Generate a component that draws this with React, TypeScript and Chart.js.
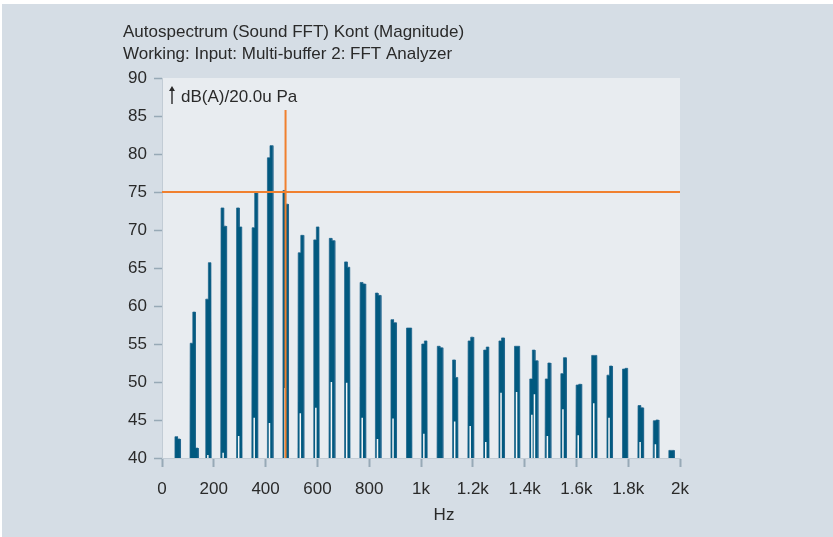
import { useEffect, useRef } from 'react';
import { Chart, registerables } from 'chart.js';

Chart.register(...registerables);

// Harmonic centre frequencies (Hz)
const harmonicHz = [
  60, 119, 179, 238, 298, 358, 417, 477, 536, 596, 656, 715, 775, 834, 894, 954, 1013,
  1073, 1132, 1192, 1252, 1311, 1371, 1430, 1490, 1550, 1609, 1669, 1728, 1788, 1848, 1907, 1967,
];

// Level of each FFT bin around every harmonic, dB(A)
const harmonicLevels: number[][] = [
  [42.8, 42.5], [55.1, 59.2, 41.3], [60.9, 65.7], [72.9, 70.5], [72.9, 70.4], [70.3, 74.9],
  [79.5, 81.1], [75.2, 73.4], [67.0, 69.3], [68.7, 70.4], [68.9, 68.6], [65.8, 65.1],
  [63.1, 62.9], [61.7, 61.4], [58.2, 57.8], [57.1, 57.1], [55.0, 55.4], [54.7, 54.5],
  [52.9, 50.6], [55.4, 55.9], [54.2, 54.6], [55.4, 55.8], [54.7, 54.7], [50.4, 54.2, 52.8],
  [50.4, 52.5], [51.1, 53.2], [49.6, 49.7], [53.5, 53.5], [50.9, 52.1], [51.7, 51.8],
  [46.9, 46.6], [44.9, 45.0], [41.0, 41.0],
];

// Level of the notch between neighbouring bins (null = no notch)
const harmonicDips: (number | null)[][] = [
  [null], [null, null], [40.4], [40.7], [42.9], [45.3], [44.6], [49.2], [45.9], [46.6],
  [50.0], [49.9], [45.3], [42.5], [45.2], [null], [43.2], [null], [44.8], [44.2], [42.1],
  [48.6], [48.7], [45.7, 48.4], [42.9], [46.4], [43.0], [47.2], [45.3], [null], [42.1],
  [41.8], [null],
];

const xTickLabels = ['0', '200', '400', '600', '800', '1k', '1.2k', '1.4k', '1.6k', '1.8k', '2k'];

const cursorHz = 477;
const cursorDb = 75;
const cursorTopDb = 85.8;

const titleLines = [
  'Autospectrum (Sound FFT) Kont (Magnitude)',
  'Working: Input: Multi-buffer 2: FFT Analyzer',
];
const unitLabel = 'dB(A)/20.0u Pa';
const xAxisTitle = 'Hz';

const BIN_W = 10;
const EDGE = 1.5;
const FLOOR = 30;
const FONT = '"Liberation Sans", Arial, sans-serif';
const TEXT = '#2a2a2a';

function spectrumPoints() {
  const pts: { x: number; y: number }[] = [];
  harmonicHz.forEach((f, i) => {
    const levels = harmonicLevels[i];
    const start = f - BIN_W;
    pts.push({ x: start - EDGE, y: FLOOR });
    levels.forEach((lv, j) => {
      pts.push({ x: start + j * BIN_W, y: lv });
      pts.push({ x: start + (j + 1) * BIN_W, y: lv });
    });
    pts.push({ x: start + levels.length * BIN_W + EDGE, y: FLOOR });
  });
  return pts;
}

function notchPoints() {
  const pts: { x: number; y: number | null }[] = [];
  harmonicHz.forEach((f, i) => {
    harmonicDips[i].forEach((d, j) => {
      if (d == null) return;
      const x = f - BIN_W + (j + 1) * BIN_W - 2;
      pts.push({ x, y: FLOOR }, { x, y: d }, { x, y: null });
    });
  });
  return pts;
}

const framePlugin = {
  id: 'frame',
  beforeDraw(chart: any) {
    const { ctx, chartArea: a } = chart;
    ctx.save();
    ctx.fillStyle = '#ffffff';
    ctx.fillRect(0, 0, chart.width, chart.height);
    ctx.fillStyle = '#d5dde5';
    ctx.fillRect(2, 4, chart.width - 2, chart.height - 4);
    ctx.fillStyle = '#e8ecf0';
    ctx.fillRect(a.left, a.top, a.right - a.left, a.bottom - a.top);
    ctx.restore();
  },
  afterDraw(chart: any) {
    const { ctx } = chart;
    ctx.save();
    ctx.fillStyle = TEXT;
    ctx.textBaseline = 'alphabetic';
    ctx.textAlign = 'left';
    ctx.font = `17px ${FONT}`;
    ctx.fillText(titleLines[0], 123, 37);
    ctx.fillText(titleLines[1], 123, 59);

    // unit label with arrow
    ctx.font = `17px ${FONT}`;
    ctx.fillText(unitLabel, 181, 102);
    ctx.strokeStyle = TEXT;
    ctx.lineWidth = 1.4;
    ctx.beginPath();
    ctx.moveTo(172, 104);
    ctx.lineTo(172, 89);
    ctx.stroke();
    ctx.beginPath();
    ctx.moveTo(169, 91);
    ctx.lineTo(172, 86);
    ctx.lineTo(175, 91);
    ctx.closePath();
    ctx.fill();

    ctx.textAlign = 'center';
    ctx.font = `17px ${FONT}`;
    ctx.fillText(xAxisTitle, 444, 520);
    ctx.restore();
  },
};

export default function App() {
  const ref = useRef<HTMLCanvasElement>(null);

  useEffect(() => {
    document.body.style.margin = '0';
    const chart = new Chart(ref.current!, {
      type: 'line',
      data: {
        datasets: [
          {
            data: [
              { x: 0, y: cursorDb }, { x: 2000, y: cursorDb }, { x: 0, y: null },
              { x: cursorHz, y: FLOOR }, { x: cursorHz, y: cursorTopDb },
            ] as any,
            borderColor: '#f0802f',
            borderWidth: 2,
            pointRadius: 0,
            fill: false,
          },
          {
            data: notchPoints() as any,
            borderColor: '#f5f7f9',
            borderWidth: 1.5,
            pointRadius: 0,
            fill: false,
          },
          {
            data: spectrumPoints(),
            borderColor: 'rgba(30,100,140,0.75)',
            borderWidth: 1,
            backgroundColor: '#01597f',
            pointRadius: 0,
            fill: 'start',
            tension: 0,
          },
        ],
      },
      options: {
        responsive: false,
        animation: false,
        events: [],
        layout: { padding: { top: 78, right: 153, left: 0, bottom: 0 } },
        plugins: { legend: { display: false }, tooltip: { enabled: false } },
        scales: {
          x: {
            type: 'linear',
            min: 0,
            max: 2000,
            afterFit: (s: any) => { s.height = 79; },
            ticks: {
              stepSize: 200,
              autoSkip: false,
              maxRotation: 0,
              padding: 12,
              color: TEXT,
              font: { family: FONT, size: 17 },
              callback: (_v: any, i: number) => xTickLabels[i],
            },
            grid: { drawOnChartArea: false, tickLength: 9, tickColor: '#97a9b6', tickWidth: 2 },
            border: { display: true, color: '#c2ccd5', width: 1 },
          },
          y: {
            min: 40,
            max: 90,
            afterFit: (s: any) => { s.width = 162; },
            ticks: {
              stepSize: 5,
              padding: 7,
              color: TEXT,
              font: { family: FONT, size: 17 },
            },
            grid: { drawOnChartArea: false, tickLength: 8, tickColor: '#97a9b6', tickWidth: 1.5 },
            border: { display: true, color: '#c2ccd5', width: 1 },
          },
        },
      },
      plugins: [framePlugin],
    });
    return () => chart.destroy();
  }, []);

  return (
    <div style={{ position: 'fixed', left: 0, top: 0, width: 833, height: 537 }}>
      <canvas ref={ref} width={833} height={537} style={{ width: 833, height: 537 }} />
    </div>
  );
}
